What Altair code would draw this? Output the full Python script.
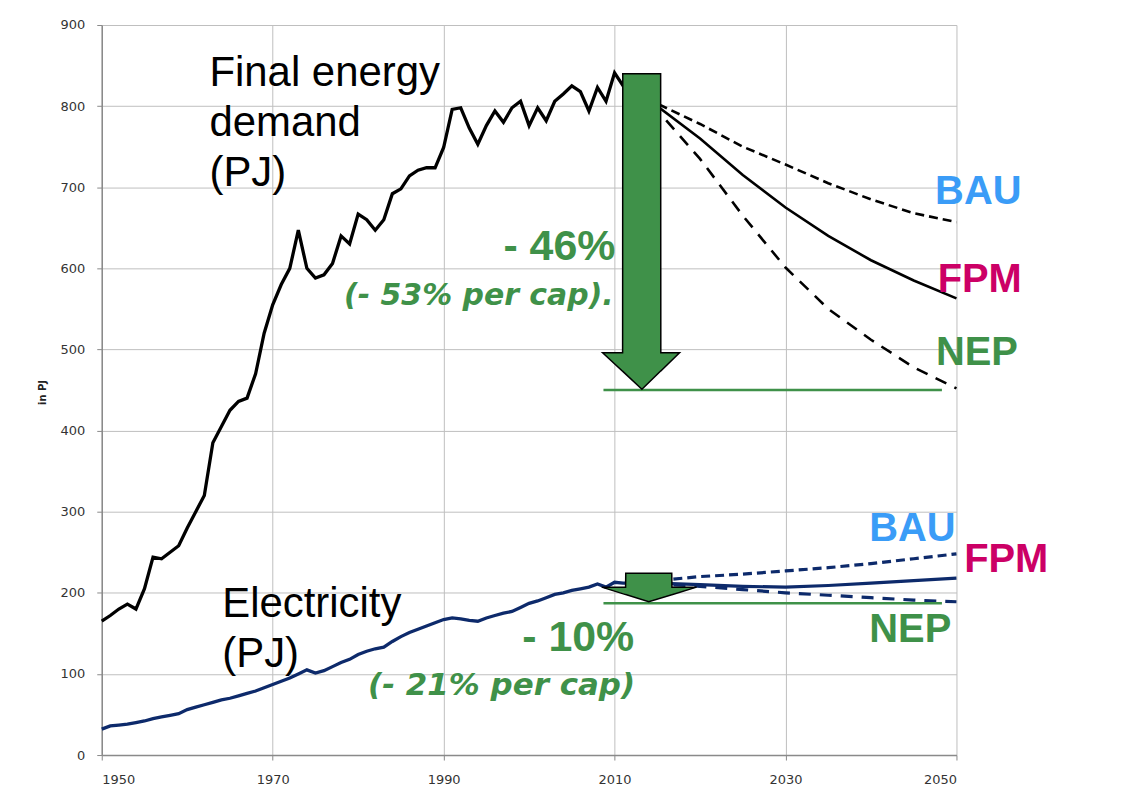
import altair as alt
import pandas as pd

# ---------------- data ----------------
hist_years = list(range(1950, 2013))
energy_hist = [165, 172, 180, 186, 180, 205, 244, 242, 250, 258,
               280, 300, 320, 385, 405, 425, 436, 440, 470, 520,
               555, 580, 600, 647, 600, 588, 592, 606, 640, 630,
               667, 660, 647, 660, 692, 698, 714, 721, 724, 724,
               749, 796, 798, 773, 753, 776, 794, 780, 798, 806,
               776, 798, 782, 806, 815, 825, 818, 794, 823, 806,
               841, 825, 810]
elec_hist = [32, 36, 37, 38, 40, 42, 45, 47, 49, 51,
             56, 59, 62, 65, 68, 70, 73, 76, 79, 83,
             87, 91, 95, 100, 105, 101, 104, 109, 114, 118,
             124, 128, 131, 133, 140, 146, 151, 155, 159, 163,
             167, 169, 168, 166, 165, 169, 172, 175, 177, 182,
             187, 190, 194, 198, 200, 203, 205, 207, 211, 207,
             213, 212, 212]

proj_years = [2012, 2015, 2020, 2025, 2030, 2035, 2040, 2045, 2050]
energy_bau = [810, 803, 778, 750, 728, 705, 685, 668, 657]
energy_fpm = [810, 800, 760, 715, 675, 640, 610, 585, 563]
energy_nep = [810, 795, 735, 665, 601, 550, 512, 478, 452]
elec_bau = [212, 215, 220, 223, 227, 231, 236, 242, 248]
elec_fpm = [212, 212, 210, 208, 207, 209, 212, 215, 218]
elec_nep = [212, 211, 208, 204, 200, 197, 194, 191, 189]

# target levels (green lines)
target_years = [2008.7, 2048.3]
energy_target = 450
elec_target = 187

# arrow outlines (year, top, bottom) in data units
big_arrow_x = [2008.6, 2010.94, 2010.96, 2013.2, 2015.39, 2015.41, 2017.6]
big_arrow_top = [496, 496, 840, 840, 840, 496, 496]
big_arrow_bot = [496, 473, 473, 451, 473.5, 473.5, 496]
small_arrow_x = [2008.5, 2011.29, 2011.31, 2014.0, 2016.69, 2016.71, 2019.6]
small_arrow_top = [207, 207, 224, 224, 224, 207, 207]
small_arrow_bot = [207, 197.8, 197.8, 189, 197.7, 197.7, 207]

x_ticks = [1950, 1970, 1990, 2010, 2030, 2050]
y_ticks = list(range(0, 901, 100))

GREEN = "#3f9149"
BLUE = "#3a9cf7"
MAGENTA = "#cc0066"
NAVY = "#0d2a6b"

xs = alt.Scale(domain=[1950, 2050], nice=False, zero=False)
ys = alt.Scale(domain=[0, 900], nice=False)

def line_layer(years, vals, color, width, dash=None):
    df = pd.DataFrame({"year": years, "v": vals})
    kw = dict(color=color, strokeWidth=width, clip=False)
    if dash:
        kw["strokeDash"] = dash
    return alt.Chart(df).mark_line(**kw).encode(
        x=alt.X("year:Q", scale=xs,
                axis=alt.Axis(values=x_ticks, format="d", title=None,
                              grid=True, tickSize=5, labelPadding=14)),
        y=alt.Y("v:Q", scale=ys,
                axis=alt.Axis(values=y_ticks, title="in PJ", grid=True,
                              tickSize=5, labelPadding=12,
                              titleX=-59, titleY=368, titleAngle=270,
                              titleAlign="center", titleBaseline="middle",
                              titleFontSize=10, titleFontWeight="bold",
                              titleColor="#222")),
    )

layers = [
    line_layer(hist_years, energy_hist, "black", 3.3),
    line_layer(proj_years, energy_bau, "black", 2.6, [9, 5]),
    line_layer(proj_years, energy_fpm, "black", 2.6),
    line_layer(proj_years, energy_nep, "black", 2.6, [12, 9]),
    line_layer(hist_years, elec_hist, NAVY, 3.3),
    line_layer(proj_years, elec_bau, NAVY, 3.2, [9, 5]),
    line_layer(proj_years, elec_fpm, NAVY, 3.2),
    line_layer(proj_years, elec_nep, NAVY, 3.2, [12, 9]),
]

# green target rules
tdf = pd.DataFrame({"x": [target_years[0]] * 2, "x2": [target_years[1]] * 2,
                    "y": [energy_target, elec_target]})
layers.append(alt.Chart(tdf).mark_rule(color=GREEN, strokeWidth=2.5).encode(
    x=alt.X("x:Q", scale=xs), x2="x2:Q", y=alt.Y("y:Q", scale=ys)))

# arrows
for ax_, at, ab in [(big_arrow_x, big_arrow_top, big_arrow_bot),
                    (small_arrow_x, small_arrow_top, small_arrow_bot)]:
    adf = pd.DataFrame({"x": ax_, "top": at, "bot": ab})
    layers.append(alt.Chart(adf).mark_area(
        fill=GREEN, fillOpacity=1, stroke="black", strokeWidth=1.5,
        interpolate="linear").encode(
        x=alt.X("x:Q", scale=xs, sort=None), y=alt.Y("top:Q", scale=ys),
        y2="bot:Q"))

def text_layer(rows, font, size, color, weight="normal", style="normal",
               align="left", lineHeight=None):
    df = pd.DataFrame(rows, columns=["x", "y", "t"])
    kw = dict(font=font, fontSize=size, color=color, fontWeight=weight,
              fontStyle=style, align=align, baseline="alphabetic", clip=False)
    if lineHeight:
        kw["lineBreak"] = "\n"
        kw["lineHeight"] = lineHeight
    return alt.Chart(df).mark_text(**kw).encode(
        x=alt.X("x:Q", scale=xs), y=alt.Y("y:Q", scale=ys), text="t:N")

layers += [
    text_layer([[1962.6, 824.6, "Final energy\ndemand\n(PJ)"],
                [1964.1, 170.5, "Electricity\n(PJ)"]],
               "Liberation Sans", 42, "black", lineHeight=50),
    text_layer([[2010.1, 609.7, "- 46%"], [2012.3, 128.8, "- 10%"]],
               "Liberation Sans", 43, GREEN, weight="bold", align="right"),
    text_layer([[2009.9, 554.5, "(- 53% per cap)."]],
               "DejaVu Sans", 30, GREEN, weight="bold", style="italic",
               align="right"),
    text_layer([[2012.4, 73.5, "(- 21% per cap)"]],
               "DejaVu Sans", 31, GREEN, weight="bold", style="italic",
               align="right"),
    text_layer([[2047.5, 679.4, "BAU"], [2039.8, 263.9, "BAU"]],
               "Liberation Sans", 40, BLUE, weight="bold"),
    text_layer([[2047.8, 570.9, "FPM"], [2050.9, 225.5, "FPM"]],
               "Liberation Sans", 40, MAGENTA, weight="bold"),
    text_layer([[2047.6, 480.8, "NEP"], [2039.8, 139.0, "NEP"]],
               "Liberation Sans", 40, GREEN, weight="bold"),
]

chart = alt.layer(*layers).properties(
    width=857, height=732,
    autosize=alt.AutoSizeParams(type="none"),
    padding={"left": 94, "top": 16, "right": 170, "bottom": 35},
).configure_view(strokeWidth=0).configure_axis(
    gridColor="#bfbfbf", gridWidth=1, domainColor="#8a8a8a", domainWidth=1.5,
    tickColor="#8a8a8a", labelFont="DejaVu Sans", labelFontSize=13,
    labelColor="#333", titleFont="DejaVu Sans",
)

chart.save("out.html", embed_options={"renderer": "svg", "actions": False})
